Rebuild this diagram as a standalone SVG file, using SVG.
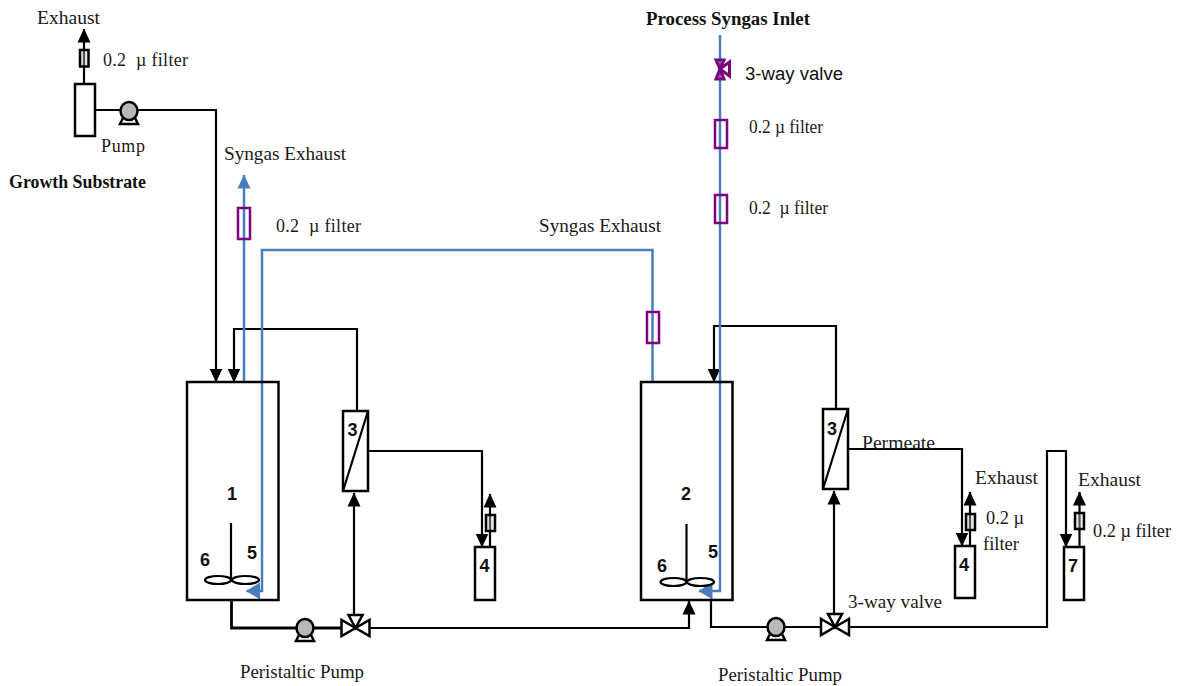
<svg xmlns="http://www.w3.org/2000/svg" width="1179" height="686" viewBox="0 0 1179 686">
<defs>
<style>
.s{font-family:"Liberation Serif",serif;font-size:18px;fill:#1a1a1a}
.b{font-family:"Liberation Serif",serif;font-size:18px;font-weight:bold;fill:#111}
.a{font-family:"Liberation Sans",sans-serif;font-size:18px;fill:#111}
.n{font-family:"Liberation Sans",sans-serif;font-size:18px;font-weight:bold;fill:#111}
.k{fill:none;stroke:#000;stroke-width:2.200}
.k3{fill:none;stroke:#000;stroke-width:2.800}
.bl{fill:none;stroke:#4a7ebb;stroke-width:2.500}
.box{fill:none;stroke:#000;stroke-width:2.500}
.bw{fill:#fff;stroke:#000;stroke-width:2.500}
.pf{fill:none;stroke:#7f007f;stroke-width:2.500}
.ff{fill:#ccc;fill-opacity:.4;stroke:#000;stroke-width:2.500}
.p{fill:#b8b8b8;stroke:#000;stroke-width:2.500}
.pb{fill:#fff;stroke:#000;stroke-width:2.500}
.v{fill:#fff;stroke:#000;stroke-width:2.500}
</style>
<marker id="ah" markerUnits="userSpaceOnUse" markerWidth="15" markerHeight="15" refX="13.500" refY="7" orient="auto"><path d="M0 0.500L14 7L0 13.500Z" fill="#000"/></marker>
<marker id="ab" markerUnits="userSpaceOnUse" markerWidth="15" markerHeight="15" refX="13.500" refY="7" orient="auto"><path d="M0 0.500L14 7L0 13.500Z" fill="#4a7ebb"/></marker>
<marker id="ab2" markerUnits="userSpaceOnUse" markerWidth="15" markerHeight="18" refX="13.500" refY="9" orient="auto"><path d="M0 0.500L14 9L0 17.500Z" fill="#4a7ebb"/></marker>
<g id="pump"><path class="pb" d="M-9 13L-6 7H6L9 13Z"/><ellipse class="p" cx="0" cy="0" rx="8.500" ry="9"/></g>
<g id="valve"><path class="v" d="M0 0L-14 -8V8Z"/><path class="v" d="M0 0L14 -8V8Z"/><path class="v" d="M0 0L-7 -13H7Z"/></g>
</defs>

<g id="connectors">
<path class="k" d="M84 84V29" marker-end="url(#ah)"/>
<path class="k" d="M95 110H216V382" marker-end="url(#ah)"/>
<path class="k" d="M357 411V329H234V382" marker-end="url(#ah)"/>
<path class="k" d="M368 451H482V547" marker-end="url(#ah)"/>
<path class="k" d="M490 547V494" marker-end="url(#ah)"/>
<path class="k3" d="M231.500 600V628H343"/>
<path class="k" d="M354 615V493" marker-end="url(#ah)"/>
<path class="k" d="M369 628H689V601" marker-end="url(#ah)"/>
<path class="k" d="M836 409V326H714V382" marker-end="url(#ah)"/>
<path class="k" d="M848 449H962V546" marker-end="url(#ah)"/>
<path class="k" d="M970 546V492" marker-end="url(#ah)"/>
<path class="k" d="M711 600V627H821"/>
<path class="k" d="M834 614V491" marker-end="url(#ah)"/>
<path class="k" d="M849 627H1047V451H1066V547" marker-end="url(#ah)"/>
<path class="k" d="M1079.500 547V492" marker-end="url(#ah)"/>
<path class="bl" d="M244 382V175" marker-end="url(#ab)"/>
<path class="bl" d="M652.500 382V250H262V591H246.500" marker-end="url(#ab2)"/>
<path class="bl" d="M720 35V591H699" marker-end="url(#ab2)"/>
</g>

<g id="vessel-1"><rect class="box" x="187" y="382" width="91.500" height="218"/><text class="n" x="232" y="500" text-anchor="middle">1</text></g>
<g id="stirrer-1"><path class="k" d="M231 523V582"/><ellipse class="k" cx="218" cy="580" rx="13" ry="4"/><ellipse class="k" cx="245.500" cy="580" rx="13.500" ry="4"/><text class="n" x="205" y="566" text-anchor="middle">6</text><text class="n" x="252" y="559" text-anchor="middle">5</text></g>
<g id="vessel-2"><rect class="box" x="641" y="382" width="91.500" height="218"/><text class="n" x="686" y="500" text-anchor="middle">2</text></g>
<g id="stirrer-2"><path class="k" d="M686.500 524V582"/><ellipse class="k" cx="673.500" cy="582" rx="13" ry="4"/><ellipse class="k" cx="700.500" cy="582" rx="13.500" ry="4"/><text class="n" x="662" y="572" text-anchor="middle">6</text><text class="n" x="713" y="558" text-anchor="middle">5</text></g>

<g id="module-3a"><rect class="bw" x="343" y="411" width="25" height="80"/><path class="k" d="M343 491L368 411"/><text class="n" x="352.500" y="436" text-anchor="middle">3</text></g>
<g id="module-3b"><rect class="bw" x="823" y="409" width="25" height="80"/><path class="k" d="M823 489L848 409"/><text class="n" x="832" y="435" text-anchor="middle">3</text></g>
<g id="tank-4a"><rect class="box" x="475" y="547" width="20" height="53"/><text class="n" x="484.500" y="572" text-anchor="middle">4</text></g>
<g id="tank-4b"><rect class="box" x="955" y="546" width="20" height="52"/><text class="n" x="964" y="571" text-anchor="middle">4</text></g>
<g id="tank-7"><rect class="box" x="1064" y="547" width="20" height="53"/><text class="n" x="1073" y="572" text-anchor="middle">7</text></g>
<g id="substrate-tank"><rect class="bw" x="75" y="84" width="20" height="52"/></g>

<g id="filter-top"><rect class="ff" x="80" y="50" width="8.500" height="16.500"/></g>
<g id="filter-4a"><rect class="ff" x="486" y="515" width="9" height="16"/></g>
<g id="filter-4b"><rect class="ff" x="966" y="514" width="9" height="16"/></g>
<g id="filter-7"><rect class="ff" x="1075" y="513" width="9" height="16"/></g>
<g id="filter-p1"><rect class="pf" x="238" y="208" width="12" height="31"/></g>
<g id="filter-p2"><rect class="pf" x="647" y="312" width="12" height="31"/></g>
<g id="filter-p3"><rect class="pf" x="715" y="120" width="12" height="28"/></g>
<g id="filter-p4"><rect class="pf" x="715" y="195" width="12" height="28"/></g>
<g id="valve-purple"><path d="M716 60L724 60L720 69L724 79L716 79L720 69Z M720 69L729.500 62V76Z" fill="none" stroke="#7f007f" stroke-width="3"/></g>

<use id="pump-top" href="#pump" x="129" y="111"/>
<use id="pump-1" href="#pump" x="305" y="628"/>
<use id="pump-2" href="#pump" x="776" y="627"/>
<use id="valve-1" href="#valve" x="355.500" y="628"/>
<use id="valve-2" href="#valve" x="835" y="627"/>

<g id="labels" lengthAdjust="spacingAndGlyphs">
<text class="s" x="37" y="24" textLength="63" lengthAdjust="spacingAndGlyphs">Exhaust</text>
<text class="s" x="103" y="66" textLength="85" xml:space="preserve">0.2  µ filter</text>
<text class="s" x="101" y="152" textLength="44">Pump</text>
<text class="b" x="9" y="188" textLength="137" lengthAdjust="spacingAndGlyphs">Growth Substrate</text>
<text class="s" x="224" y="160" textLength="122" lengthAdjust="spacingAndGlyphs">Syngas Exhaust</text>
<text class="s" x="276" y="232" textLength="85" xml:space="preserve">0.2  µ filter</text>
<text class="s" x="539" y="232" textLength="122" lengthAdjust="spacingAndGlyphs">Syngas Exhaust</text>
<text class="b" x="646" y="25" textLength="164" lengthAdjust="spacingAndGlyphs">Process Syngas Inlet</text>
<text class="a" x="745" y="80" textLength="98" lengthAdjust="spacingAndGlyphs">3-way valve</text>
<text class="s" x="749" y="133" textLength="74" lengthAdjust="spacingAndGlyphs">0.2 µ filter</text>
<text class="s" x="749" y="214" textLength="79" lengthAdjust="spacingAndGlyphs" xml:space="preserve">0.2  µ filter</text>
<text class="s" x="862" y="449" textLength="73" lengthAdjust="spacingAndGlyphs">Permeate</text>
<text class="s" x="975" y="484" textLength="63" lengthAdjust="spacingAndGlyphs">Exhaust</text>
<text class="s" x="986" y="524" textLength="38" lengthAdjust="spacingAndGlyphs">0.2 µ</text>
<text class="s" x="983" y="550" textLength="36" lengthAdjust="spacingAndGlyphs">filter</text>
<text class="s" x="1078" y="486" textLength="63" lengthAdjust="spacingAndGlyphs">Exhaust</text>
<text class="s" x="1093" y="537" textLength="78" lengthAdjust="spacingAndGlyphs">0.2 µ filter</text>
<text class="s" x="848" y="608" textLength="94" lengthAdjust="spacingAndGlyphs">3-way valve</text>
<text class="s" x="240" y="678" textLength="124" lengthAdjust="spacingAndGlyphs">Peristaltic Pump</text>
<text class="s" x="718" y="681" textLength="124" lengthAdjust="spacingAndGlyphs">Peristaltic Pump</text>
</g>
</svg>
